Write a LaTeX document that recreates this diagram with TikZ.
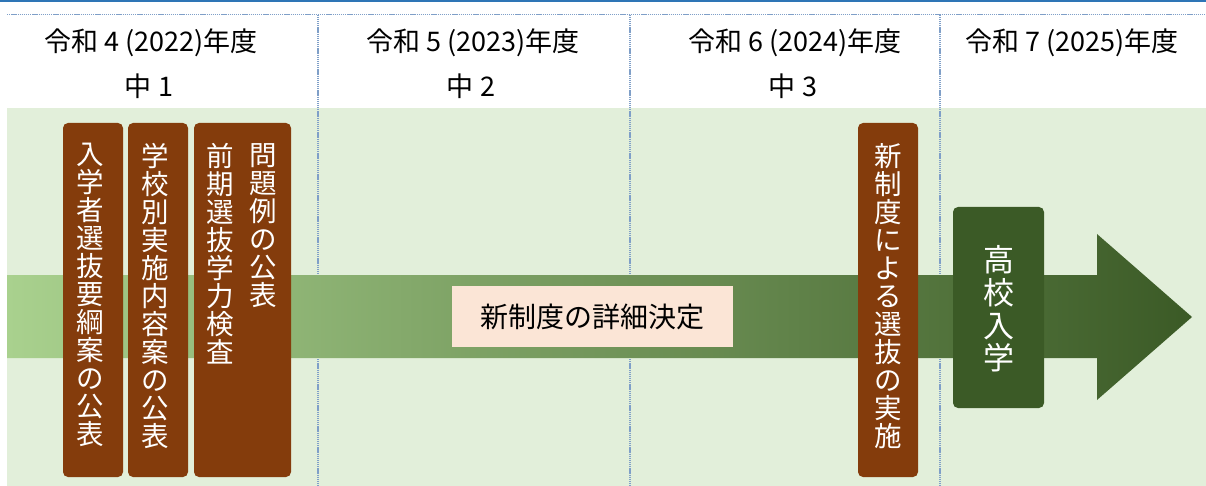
\documentclass[tikz,border=0pt]{standalone}
\usepackage{fontspec}
\setmainfont{Noto Sans CJK JP}
\definecolor{topblue}{HTML}{2E75B6}
\definecolor{dotblue}{HTML}{7F9FC8}
\definecolor{bggreen}{HTML}{E2EFDA}
\definecolor{boxbrown}{HTML}{843C0C}
\definecolor{darkgreen}{HTML}{3B5A26}
\definecolor{lightgreen}{HTML}{A9D18E}
\definecolor{peach}{HTML}{FBE5D6}
\begin{document}
\begin{tikzpicture}[x=1pt,y=-1pt,
  dotline/.style={dotblue, line width=1.3pt, dash pattern=on 1.3pt off 0.8pt},
  head/.style={inner sep=0, font=\fontsize{27}{30}\selectfont, text=black},
  brownbox/.style={fill=boxbrown, rounded corners=5pt, inner sep=0, minimum width=60pt, minimum height=354pt},
  vtext/.style={text=white, align=center, inner sep=0, anchor=north, font=\fontsize{27.5}{28}\selectfont}
]
\useasboundingbox (0,0) rectangle (1206,486);
\fill[white] (0,0) rectangle (1206,486);
\fill[topblue] (0,0) rectangle (1206,2.5);
\fill[bggreen] (7,108) rectangle (1206,486);
\draw[dotline] (7,14.7) -- (1206,14.7);
\foreach \xx in {318,630,940} { \draw[dotline] (\xx,14.7) -- (\xx,486); }

% headers
\node[head] (h1) at (151,43) {令和 4 (2022)年度};
\node[head] (h2) at (473,43) {令和 5 (2023)年度};
\node[head] (h3) at (795,43) {令和 6 (2024)年度};
\node[head] (h4) at (1072,43) {令和 7 (2025)年度};
\node[head] (g1) at (149,86) {中 1};
\node[head] (g2) at (471,86) {中 2};
\node[head] (g3) at (793,86) {中 3};

% arrow
\shade[left color=lightgreen, right color=darkgreen]
  (7,275) -- (1097,275) -- (1097,234) -- (1192,317) -- (1097,400) -- (1097,358) -- (7,358) -- cycle;

% brown boxes
\node[brownbox] (b1) at (93,300) {};
\node[brownbox] (b2) at (158,300) {};
\node[brownbox, minimum width=97pt] (b3) at (242.5,300) {};
\node[brownbox] (b4) at (888,300) {};

\node[vtext] (t1) at (90,143) {入\\学\\者\\選\\抜\\要\\綱\\案\\の\\公\\表};
\node[vtext] (t2) at (155,143) {学\\校\\別\\実\\施\\内\\容\\案\\の\\公\\表};
\node[vtext] (t3r) at (263,143) {問\\題\\例\\の\\公\\表};
\node[vtext] (t3l) at (220,143) {前\\期\\選\\抜\\学\\力\\検\\査};
\node[vtext] (t4) at (888,143) {新\\制\\度\\に\\よ\\る\\選\\抜\\の\\実\\施};

% detail box
\node[fill=peach, inner sep=0, minimum width=281pt, minimum height=61pt, font=\fontsize{28}{30}\selectfont] (detail) at (592.5,316.5) {新制度の詳細決定};

% high school box
\node[fill=darkgreen, rounded corners=5pt, inner sep=0, minimum width=91pt, minimum height=201pt] (hs) at (998.5,307.5) {};
\node[text=white, align=center, inner sep=0, font=\fontsize{31}{32.7}\selectfont] (hst) at (999,309) {高\\校\\入\\学};
\end{tikzpicture}
\end{document}
